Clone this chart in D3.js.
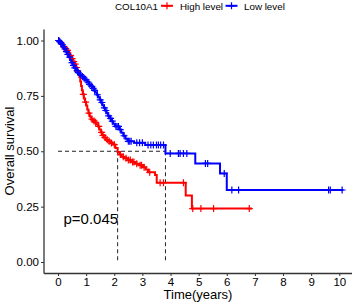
<!DOCTYPE html>
<html>
<head>
<meta charset="utf-8">
<script src="https://cdn.jsdelivr.net/npm/d3@7"></script>
<style>
  body { margin: 0; background: #fff; }
  text { font-family: "Liberation Sans", Arial, sans-serif; }
</style>
</head>
<body>
<div id="chart"></div>
<script>
// Kaplan-Meier steps
var highTime = [0, 0.05, 0.10, 0.15, 0.20, 0.26, 0.31, 0.36, 0.42, 0.48, 0.53, 0.58, 0.63, 0.68, 0.72, 0.76,
  0.79, 0.82, 0.85, 0.88, 0.92, 0.96, 1.00, 1.04, 1.08, 1.13, 1.18, 1.24, 1.30, 1.36, 1.42, 1.47, 1.52,
  1.57, 1.63, 1.70, 1.78, 1.86, 1.95, 2.04, 2.12, 2.18, 2.26, 2.36, 2.48, 2.60, 2.74, 2.88, 3.02, 3.12,
  3.20, 3.45, 3.51, 4.54, 4.76];
var highSurv = [1, 0.99, 0.985, 0.978, 0.97, 0.962, 0.955, 0.945, 0.932, 0.918, 0.905, 0.893, 0.878, 0.862, 0.848, 0.835,
  0.815, 0.795, 0.775, 0.757, 0.738, 0.722, 0.706, 0.688, 0.672, 0.657, 0.645, 0.637, 0.630, 0.622, 0.612, 0.598, 0.585,
  0.572, 0.562, 0.552, 0.545, 0.537, 0.530, 0.515, 0.497, 0.485, 0.475, 0.468, 0.460, 0.452, 0.444, 0.437, 0.428, 0.418,
  0.405, 0.393, 0.358, 0.30, 0.241];
var highEnd = 6.89;
var highCensor = [0.03, 0.12, 0.22, 0.28, 0.34, 0.45, 0.50, 0.56, 0.61, 0.66, 0.70, 0.90, 0.98, 1.10, 1.21, 1.28,
  1.34, 1.45, 1.55, 1.60, 1.67, 1.75, 1.82, 1.90, 2.00, 2.22, 2.32, 2.42, 2.50, 2.57, 2.65, 2.70, 2.80, 2.92,
  2.97, 3.06, 3.26, 3.63, 3.75, 4.46, 4.79, 5.08, 5.53, 6.80];

var lowTime = [0, 0.04, 0.08, 0.13, 0.18, 0.23, 0.28, 0.33, 0.38, 0.43, 0.48, 0.53, 0.58, 0.64, 0.70, 0.76, 0.83,
  0.90, 0.97, 1.04, 1.10, 1.16, 1.22, 1.28, 1.33, 1.38, 1.43, 1.48, 1.53, 1.58, 1.63, 1.68, 1.73, 1.78, 1.84,
  1.90, 1.96, 2.03, 2.18, 2.25, 2.32, 2.40, 2.47, 2.70, 3.10, 3.82, 4.88, 5.76, 6.00];
var lowSurv = [1, 0.995, 0.99, 0.982, 0.972, 0.962, 0.95, 0.937, 0.925, 0.912, 0.90, 0.888, 0.876, 0.864, 0.855, 0.846, 0.838,
  0.83, 0.822, 0.812, 0.802, 0.793, 0.784, 0.775, 0.765, 0.755, 0.744, 0.732, 0.72, 0.708, 0.696, 0.684, 0.672, 0.66, 0.648,
  0.636, 0.624, 0.612, 0.598, 0.583, 0.57, 0.556, 0.545, 0.538, 0.528, 0.49, 0.445, 0.40, 0.325];
var lowEnd = 10.15;
var lowCensor = [0.02, 0.06, 0.10, 0.15, 0.20, 0.25, 0.30, 0.35, 0.42, 0.50, 0.55, 0.60, 0.68, 0.72, 0.80, 0.87,
  0.93, 1.00, 1.07, 1.12, 1.20, 1.25, 1.30, 1.40, 1.50, 1.56, 1.65, 1.70, 1.80, 1.87, 1.93, 2.06, 2.10, 2.15,
  2.21, 2.35, 2.50, 2.55, 2.60, 2.80, 2.90, 3.00, 3.20, 3.30, 3.39, 3.50, 3.57, 3.65, 3.75, 3.99, 4.28, 4.34,
  4.46, 4.58, 5.24, 5.32, 5.91, 6.18, 6.42, 9.62, 9.68, 10.10];

var xTicks = [0, 1, 2, 3, 4, 5, 6, 7, 8, 9, 10];
var yTicks = [0, 0.25, 0.5, 0.75, 1];
var groupNames = ["High level", "Low level"];
var groupColors = ["#FF0000", "#0000FF"];
var pLabel = "p=0.045";

function init(){
    var w = 354, h = 305;

    var xScale = d3.scaleLinear().domain([0, 10]).range([58, 339.3]);
    var yScale = d3.scaleLinear().domain([0, 1]).range([262, 40.5]);

    var svg = d3.select("#chart").append("svg")
        .attr("width", w).attr("height", h);

    // axes
    var xAxis = d3.axisBottom(xScale).tickValues(xTicks).tickSize(3).tickPadding(2)
        .tickFormat(d3.format("d"));
    var yAxis = d3.axisLeft(yScale).tickValues(yTicks).tickSize(3).tickPadding(2)
        .tickFormat(d3.format(".2f"));

    var gx = svg.append("g").attr("transform", "translate(0,273)").call(xAxis);
    var gy = svg.append("g").attr("transform", "translate(44,0)").call(yAxis);
    gx.select(".domain").attr("d", "M44,0.5H352");
    gy.select(".domain").attr("d", "M0,29.4V273.6");
    [gx, gy].forEach(function(g){
        g.select(".domain").attr("stroke", "#333").attr("stroke-width", 1.3);
        g.selectAll(".tick line").attr("stroke", "#333").attr("stroke-width", 1);
        g.selectAll(".tick text").attr("fill", "#000").style("font-size", "11.5px");
    });

    function step(times, surv, end){
        var pts = times.map(function(t, i){ return [t, surv[i]]; });
        pts.push([end, surv[surv.length - 1]]);
        return pts;
    }
    function survAt(times, surv, t){
        var i = d3.bisectRight(times, t) - 1;
        return surv[Math.max(0, i)];
    }
    function median(times, surv){
        for (var i = 0; i < surv.length; i++) if (surv[i] <= 0.5) return times[i];
        return null;
    }

    var groups = [
        {time: highTime, surv: highSurv, end: highEnd, censor: highCensor},
        {time: lowTime, surv: lowSurv, end: lowEnd, censor: lowCensor}
    ];

    // median guide lines
    var medHigh = median(highTime, highSurv), medLow = median(lowTime, lowSurv);
    var dash = svg.append("g").attr("stroke", "#222").attr("stroke-width", 1)
        .attr("stroke-dasharray", "4,3").attr("fill", "none");
    dash.append("line")
        .attr("x1", xScale(0)).attr("x2", xScale(Math.max(medHigh, medLow)))
        .attr("y1", yScale(0.5)).attr("y2", yScale(0.5));
    [medHigh, medLow].forEach(function(m){
        dash.append("line")
            .attr("x1", xScale(m)).attr("x2", xScale(m))
            .attr("y1", yScale(0.5)).attr("y2", yScale(0));
    });

    var line = d3.line()
        .x(function(d){ return xScale(d[0]); })
        .y(function(d){ return yScale(d[1]); })
        .curve(d3.curveStepAfter);

    groups.forEach(function(g, k){
        svg.append("path")
            .datum(step(g.time, g.surv, g.end))
            .attr("fill", "none")
            .attr("stroke", groupColors[k])
            .attr("stroke-width", 2)
            .attr("d", line);

        svg.append("g").selectAll("path")
            .data(g.censor)
            .enter().append("path")
            .attr("transform", function(t){
                return "translate(" + xScale(t) + "," + yScale(survAt(g.time, g.surv, t)) + ")";
            })
            .attr("d", "M-3.5,0H3.5M0,-3.5V3.5")
            .attr("stroke", groupColors[k])
            .attr("stroke-width", 1.2);
    });

    // p value
    svg.append("text")
        .attr("x", 63.5).attr("y", 223.5)
        .style("font-size", "15px")
        .text(pLabel);

    // axis titles
    svg.append("text")
        .attr("x", 198).attr("y", 299)
        .attr("text-anchor", "middle")
        .style("font-size", "13px")
        .text("Time(years)");
    svg.append("text")
        .attr("transform", "translate(14,151) rotate(-90)")
        .attr("text-anchor", "middle")
        .style("font-size", "13px")
        .text("Overall survival");

    // legend
    var leg = svg.append("g");
    leg.append("text").attr("x", 115).attr("y", 9.7)
        .style("font-size", "9.8px").text("COL10A1");
    var keyX = [161, 225.5], labX = [180, 244];
    groupNames.forEach(function(name, k){
        leg.append("line")
            .attr("x1", keyX[k]).attr("x2", keyX[k] + 12)
            .attr("y1", 5.8).attr("y2", 5.8)
            .attr("stroke", groupColors[k]).attr("stroke-width", 2);
        leg.append("path")
            .attr("transform", "translate(" + (keyX[k] + 6) + ",5.8)")
            .attr("d", "M-3.5,0H3.5M0,-3.5V3.5")
            .attr("stroke", groupColors[k]).attr("stroke-width", 1.2);
        leg.append("text").attr("x", labX[k]).attr("y", 9.7)
            .style("font-size", "9.8px").text(name);
    });
}

window.onload = init;
</script>
</body>
</html>
